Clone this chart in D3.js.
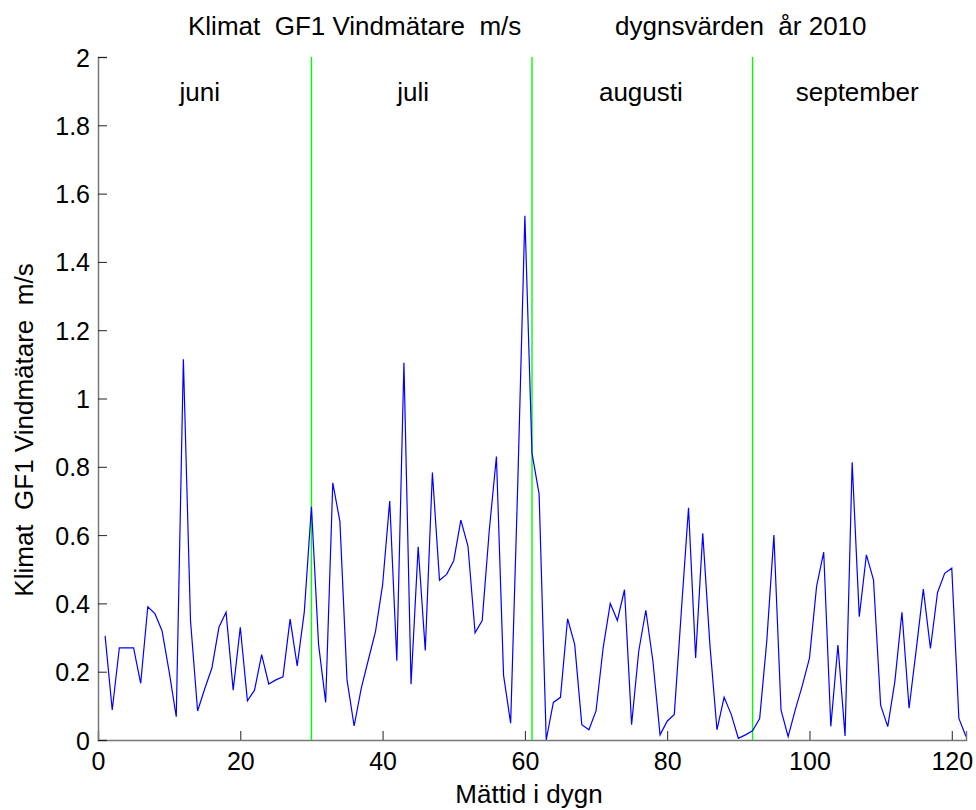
<!DOCTYPE html>
<html><head><meta charset="utf-8">
<script src="https://cdn.jsdelivr.net/npm/d3@7"></script>
<style>body{margin:0;background:#fff}svg text{font-family:"Liberation Sans",Arial,sans-serif}</style>
</head><body><div id="chart"></div>
<script>
const days = d3.range(1, 123);
const windValues = [
 0.305,0.088,0.27,0.27,0.27,0.166,0.39,0.37,0.32,0.2,
 0.068,1.115,0.35,0.085,0.15,0.21,0.33,0.374,0.146,0.33,
 0.115,0.146,0.25,0.164,0.176,0.185,0.354,0.217,0.376,0.683,
 0.28,0.11,0.753,0.64,0.176,0.041,0.151,0.235,0.317,0.454,
 0.70,0.232,1.105,0.163,0.566,0.262,0.783,0.468,0.485,0.525,
 0.644,0.568,0.314,0.35,0.615,0.83,0.19,0.049,0.75,1.535,
 0.84,0.72,0.0,0.11,0.125,0.355,0.28,0.045,0.03,0.085,
 0.27,0.40,0.35,0.44,0.045,0.26,0.38,0.23,0.015,0.055,
 0.075,0.38,0.68,0.24,0.605,0.28,0.03,0.125,0.075,0.005,
 0.015,0.027,0.063,0.29,0.6,0.088,0.01,0.088,0.16,0.24,
 0.45,0.55,0.04,0.278,0.012,0.813,0.361,0.542,0.469,0.102,
 0.039,0.171,0.374,0.093,0.264,0.442,0.268,0.432,0.488,0.503,
 0.063,0.01
];
const monthBounds = [30, 61, 92];
const monthNames = ["juni", "juli", "augusti", "september"];
const monthLabelPos = [14.3, 44.3, 76.3, 106.7];
const xTicks = [0, 20, 40, 60, 80, 100, 120];
const yTicks = [0, 0.2, 0.4, 0.6, 0.8, 1, 1.2, 1.4, 1.6, 1.8, 2];
const titleParts = ["Klimat  GF1 Vindmätare  m/s", "dygnsvärden  år 2010"];
const yLabel = "Klimat  GF1 Vindmätare  m/s";
const xLabel = "Mättid i dygn";

const W = 976, H = 810;
const m = {left: 98, right: 10, top: 57, bottom: 70};
const svg = d3.select("#chart").append("svg").attr("width", W).attr("height", H);
const x = d3.scaleLinear().domain([0, 122]).range([m.left, W - m.right]);
const y = d3.scaleLinear().domain([0, 2]).range([H - m.bottom, m.top]);

svg.append("g").selectAll("line").data(monthBounds).join("line")
  .attr("x1", d => x(d)).attr("x2", d => x(d))
  .attr("y1", y(0)).attr("y2", y(2))
  .attr("stroke", "#00ff00").attr("stroke-width", 1.4);

svg.append("path").datum(days.map((d, i) => [d, windValues[i]]))
  .attr("fill", "none").attr("stroke", "#0000ff").attr("stroke-width", 1.2)
  .attr("d", d3.line().x(d => x(d[0])).y(d => y(d[1])));

const fsTick = 25, fs = 26;
const xAxis = svg.append("g").attr("transform", `translate(0,${y(0)})`)
  .call(d3.axisBottom(x).tickValues(xTicks).tickSize(-9).tickPadding(14).tickFormat(d3.format("d")));
const yAxis = svg.append("g").attr("transform", `translate(${x(0)},0)`)
  .call(d3.axisLeft(y).tickValues(yTicks).tickSize(-9).tickPadding(8).tickFormat(d => String(+d.toFixed(1))));
[xAxis, yAxis].forEach(a => {
  a.select(".domain").attr("stroke", "#777").attr("stroke-width", 1.5);
  a.selectAll(".tick line").attr("stroke", "#222").attr("stroke-width", 1);
  a.selectAll(".tick text").attr("font-size", fsTick).attr("fill", "#000")
    .attr("font-family", '"Liberation Sans",Arial,sans-serif');
});
yAxis.selectAll(".tick text").attr("dy", "0.36em");
xAxis.selectAll(".tick text").attr("dy", "0.71em").attr("y", 12);

svg.append("text").attr("x", 188).attr("y", 35).attr("font-size", fs)
  .style("white-space", "pre").text(titleParts[0]);
svg.append("text").attr("x", 615).attr("y", 35).attr("font-size", fs)
  .style("white-space", "pre").text(titleParts[1]);

svg.append("g").selectAll("text").data(monthNames).join("text")
  .attr("x", (d, i) => x(monthLabelPos[i])).attr("y", 101)
  .attr("text-anchor", "middle").attr("font-size", fs).text(d => d);

svg.append("text").attr("x", 529).attr("y", 803).attr("text-anchor", "middle")
  .attr("font-size", fs).text(xLabel);
svg.append("text").attr("transform", "translate(33,430) rotate(-90)")
  .attr("text-anchor", "middle").attr("font-size", fs)
  .style("white-space", "pre").text(yLabel);
</script></body></html>
